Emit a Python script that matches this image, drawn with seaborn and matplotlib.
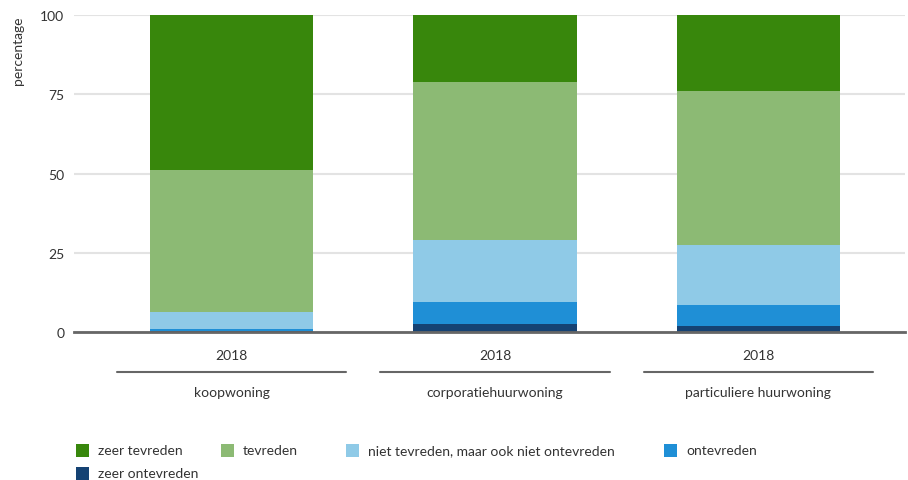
import matplotlib
matplotlib.use("Agg")
import matplotlib.pyplot as plt
import matplotlib.transforms as mtransforms
from matplotlib.patches import Rectangle
import pandas as pd
import seaborn as sns

# data (percentages)
woningtypes = ["koopwoning", "corporatiehuurwoning", "particuliere huurwoning"]
jaar = "2018"
categorieen = ["zeer tevreden", "tevreden", "niet tevreden, maar ook niet ontevreden",
               "ontevreden", "zeer ontevreden"]
zeer_tevreden = [48.9, 21.1, 24.0]
tevreden = [44.8, 49.9, 48.6]
neutraal = [5.5, 19.5, 18.9]
ontevreden = [0.6, 7.0, 6.6]
zeer_ontevreden = [0.2, 2.5, 1.9]
kleuren = ["#38870c", "#8cba74", "#8fcae7", "#1f8fd6", "#154273"]

series = [zeer_tevreden, tevreden, neutraal, ontevreden, zeer_ontevreden]

sns.set_style("white")
plt.rcParams["font.family"] = ["Lato", "DejaVu Sans"]
tekst = "#333333"
fs = 10

fig = plt.figure(figsize=(9.08, 4.81), dpi=100)
ax = fig.add_axes([0.0815, 0.3077, 0.915, 0.659])

# stacked bars: draw cumulative totals from the top category down
df = pd.DataFrame({"type": woningtypes})
for i in range(len(categorieen)):
    totaal = [sum(s[j] for s in series[i:]) for j in range(len(woningtypes))]
    df["cum"] = totaal
    sns.barplot(data=df, x="type", y="cum", color=kleuren[i], width=0.62,
                saturation=1, ax=ax, linewidth=0, zorder=3)

ax.set_ylim(0, 100)
ax.set_xlim(-0.598, 2.556)
ax.set_yticks([0, 25, 50, 75, 100])
ax.yaxis.grid(True, color="#e3e3e3", linewidth=1.5, zorder=0)
ax.set_axisbelow(True)
for s in ["top", "right", "left"]:
    ax.spines[s].set_visible(False)
ax.spines["bottom"].set_color("#666666")
ax.spines["bottom"].set_linewidth(2)
ax.spines["bottom"].set_zorder(5)
ax.tick_params(axis="y", length=0, pad=7, labelsize=fs, labelcolor=tekst)
ax.tick_params(axis="x", length=0, pad=12, labelsize=fs, labelcolor=tekst)
ax.set_xticks(range(len(woningtypes)))
ax.set_xticklabels([jaar] * len(woningtypes))
ax.set_xlabel("")
ax.set_ylabel("")

fig.text(0.02, 0.966, "percentage", rotation=90, ha="center", va="top",
         fontsize=fs, color=tekst)

# group lines and names below the years
trans = mtransforms.blended_transform_factory(ax.transData, fig.transFigure)
for i, naam in enumerate(woningtypes):
    ax.plot([i - 0.435, i + 0.435], [0.2245, 0.2245], transform=trans,
            color="#666666", linewidth=1.5, clip_on=False)
    ax.text(i, 0.183, naam, transform=trans, ha="center", va="center",
            fontsize=fs, color=tekst)

# legend
leg_x = [76, 221, 346, 664, 76]
leg_y = [451, 451, 451, 451, 474]
for naam, kleur, lx, ly in zip(categorieen, kleuren, leg_x, leg_y):
    fig.patches.append(Rectangle((lx / 908, (481 - ly - 6.5) / 481), 13 / 908, 13 / 481,
                                 transform=fig.transFigure, facecolor=kleur,
                                 edgecolor="none"))
    fig.text((lx + 22) / 908, (481 - ly) / 481, naam, ha="left", va="center",
             fontsize=fs, color=tekst)

fig.savefig("out.png", dpi=100)
